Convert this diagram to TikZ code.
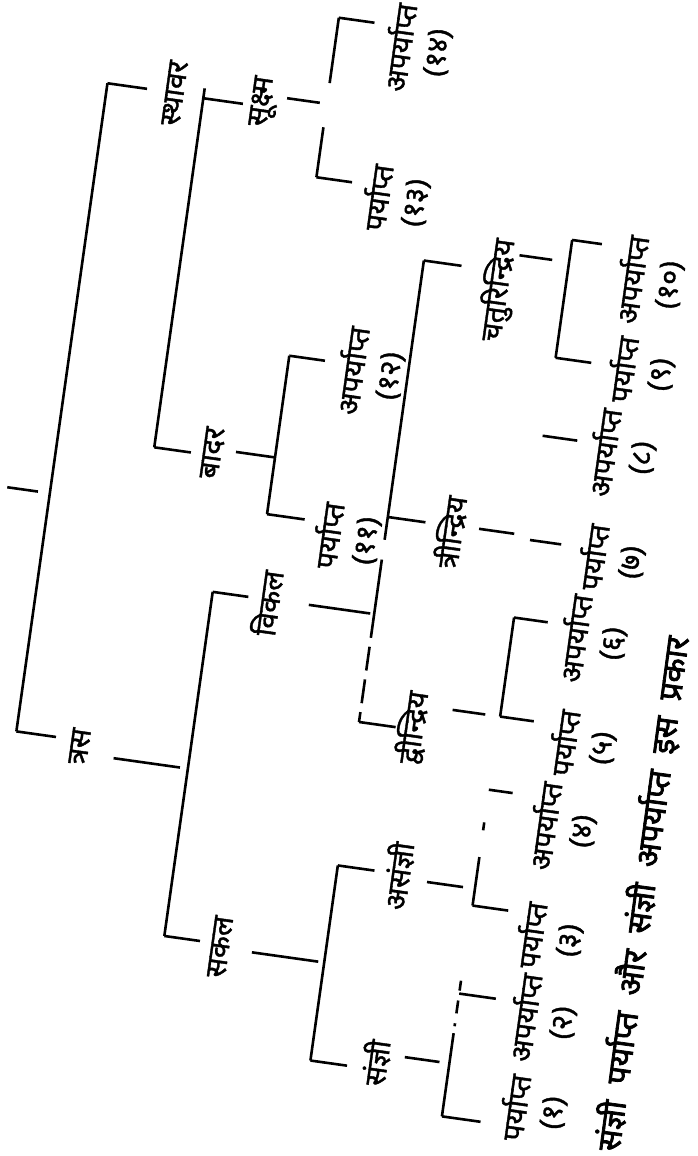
\documentclass[tikz,border=0pt]{standalone}
\usepackage{fontspec}
\newfontfamily\hindi[Script=Devanagari, FakeBold=1.3]{Noto Sans}
\newfontfamily\hindinote[Script=Devanagari, FakeBold=2.4, WordSpace=2]{Noto Sans}
\tikzset{
  branch/.style={draw=black, line width=2.6pt},
  grouplab/.style={font=\hindi\fontsize{29}{35}\selectfont, inner sep=1pt},
  leaflab/.style={grouplab, align=center},
  notelab/.style={font=\hindinote\fontsize{32}{40}\selectfont, inner sep=0pt, anchor=west, rotate=0.3},
}
\begin{document}
\begin{tikzpicture}[x=1pt, y=1pt]
\useasboundingbox (0,0) rectangle (698,-1156);
\begin{scope}[rotate=82, transform shape]
% first split
\coordinate (root-in) at (-481.5,-106);
\coordinate (root-top) at (-67.5,-118);
\coordinate (root-bot) at (-722,-118);
\node[grouplab] (sthavar) at (-68,-186) {स्थावर};
\node[grouplab] (tras) at (-728,-183) {त्रस};
\draw[branch] (root-in) -- ++(0,31);
\draw[branch] (root-top) -- (root-bot);
\draw[branch] (root-top) -- ++(0,-40);
\draw[branch] (root-bot) -- ++(0,-40);
% sthavar: badar and sukshma
\coordinate (sth-top) at (-59,-215);
\coordinate (sth-suk) at (-69,-215);
\coordinate (sth-bot) at (-421.5,-215);
\node[grouplab] (sukshma) at (-64,-276) {सूक्ष्म};
\node[grouplab] (badar) at (-419,-274) {बादर};
\draw[branch] (sth-top) -- (sth-bot);
\draw[branch] (sth-suk) -- ++(0,-40);
\draw[branch] (sth-bot) -- ++(0,-37);
% sukshma leaves
\coordinate (suk-in) at (-57.3,-338);
\coordinate (suk-top) at (29.6,-338);
\coordinate (suk-bot) at (-131.5,-338);
\node[leaflab] (par13) at (-143,-420) {पर्याप्त\\(१३)};
\node[leaflab] (apar14) at (8.7,-421) {अपर्याप्त\\(१४)};
\draw[branch, shorten <=7pt] (suk-in) -- ++(0,40);
\draw[branch, dash pattern=on 66pt off 44.6pt] (suk-top) -- (suk-bot);
\draw[branch] (suk-top) -- ++(0,-36);
\draw[branch] (suk-bot) -- ++(0,-36);
% badar leaves
\coordinate (bad-in) at (-414.7,-336);
\coordinate (bad-top) at (-312,-336);
\coordinate (bad-bot) at (-472,-336);
\node[leaflab] (par11) at (-484.5,-418.5) {पर्याप्त\\(११)};
\node[leaflab] (apar12) at (-318,-419) {अपर्याप्त\\(१२)};
\draw[branch] (bad-in) -- ++(0,39.4);
\draw[branch] (bad-top) -- (bad-bot);
\draw[branch] (bad-top) -- ++(0,-36);
\draw[branch] (bad-bot) -- ++(0,-38);
% tras: sakal and vikal
\coordinate (tras-in) at (-735,-293);
\coordinate (tras-top) at (-556.5,-293);
\coordinate (tras-bot) at (-904,-293);
\node[grouplab] (vikal) at (-560,-348) {विकल};
\node[grouplab] (sakal) at (-907,-350) {सकल};
\draw[branch, shorten <=8pt] (tras-in) -- ++(0,75);
\draw[branch] (tras-top) -- (tras-bot);
\draw[branch] (tras-top) -- ++(0,-36);
\draw[branch] (tras-bot) -- ++(0,-36);
% vikal: three groups
\coordinate (vik-in) at (-556,-456);
\coordinate (vik-top) at (-199,-456);
\coordinate (vik-mid) at (-458,-456);
\coordinate (vik-bot) at (-665,-456);
\node[grouplab] (chatur) at (-218,-534) {चतुरिन्द्रिय};
\node[grouplab] (tri) at (-464,-520) {त्रीन्द्रिय};
\node[grouplab] (dvi) at (-663,-510) {द्वीन्द्रिय};
\draw[branch, shorten <=4pt] (vik-in) -- ++(0,66);
\draw[branch, dash pattern=on 282pt off 20pt] (vik-top) -- (vik-in);
\draw[branch, dash pattern=on 24pt off 9pt] (vik-in) -- (vik-bot);
\draw[branch] (vik-top) -- ++(0,-38);
\draw[branch] (vik-mid) -- ++(0,-38);
\draw[branch] (vik-bot) -- ++(0,-37);
% chaturindriya leaves
\coordinate (cat-in) at (-180.5,-600);
\coordinate (cat-top) at (-158,-600);
\coordinate (cat-bot) at (-277,-600);
\node[leaflab] (apar10) at (-189,-683) {अपर्याप्त\\(१०)};
\node[leaflab] (par9) at (-279,-687) {पर्याप्त\\(९)};
\draw[branch, shorten <=17pt] (cat-in) -- ++(0,50);
\draw[branch] (cat-top) -- (cat-bot);
\draw[branch] (cat-top) -- ++(0,-30);
\draw[branch] (cat-bot) -- ++(0,-36);
% trindriya leaves
\coordinate (tri-in) at (-457,-583.5);
\coordinate (tri-top) at (-356,-598);
\coordinate (tri-bot) at (-461,-600);
\node[leaflab] (apar8) at (-364,-680) {अपर्याप्त\\(८)};
\node[leaflab] (par7) at (-469,-684) {पर्याप्त\\(७)};
\draw[branch] (tri-in) -- ++(0,35.5);
\draw[branch] (tri-top) -- ++(0,-35);
\draw[branch] (tri-bot) -- ++(0,-31.5);
% dvindriya leaves
\coordinate (dvi-in) at (-640,-595);
\coordinate (dvi-top) at (-540,-595);
\coordinate (dvi-bot) at (-640,-595);
\node[leaflab] (apar6) at (-552,-677) {अपर्याप्त\\(६)};
\node[leaflab] (par5) at (-657,-681) {पर्याप्त\\(५)};
\draw[branch, shorten <=15pt] (dvi-in) -- ++(0,48);
\draw[branch] (dvi-top) -- (dvi-bot);
\draw[branch] (dvi-top) -- ++(0,-34);
\draw[branch] (dvi-bot) -- ++(0,-34);
% sakal: sanjni and asanjni
\coordinate (sak-in) at (-908,-455);
\coordinate (sak-top) at (-810,-455);
\coordinate (sak-bot) at (-1007,-455);
\node[grouplab] (asanjni) at (-812,-516) {असंज्ञी};
\node[grouplab] (sanjni) at (-1000,-520) {संज्ञी};
\draw[branch, shorten <=6pt] (sak-in) -- ++(0,73);
\draw[branch] (sak-top) -- (sak-bot);
\draw[branch] (sak-top) -- ++(0,-37);
\draw[branch] (sak-bot) -- ++(0,-37);
% asanjni leaves
\coordinate (asj-in) at (-814,-594);
\coordinate (asj-top) at (-714,-594);
\coordinate (asj-bot) at (-831,-594);
\node[leaflab] (apar4) at (-742,-673) {अपर्याप्त\\(४)};
\node[leaflab] (par3) at (-852,-675) {पर्याप्त\\(३)};
\draw[branch, shorten <=12pt] (asj-in) -- ++(0,48.4);
\draw[branch, dash pattern=on 49pt off 27pt on 8pt off 40pt] (asj-bot) -- (asj-top);
\draw[branch] (asj-top) -- ++(0,-24);
\draw[branch] (asj-bot) -- ++(0,-36);
% sanjni leaves
\coordinate (snj-in) at (-990.5,-593);
\coordinate (snj-top) at (-907,-593);
\coordinate (snj-up) at (-920,-593);
\coordinate (snj-bot) at (-1044,-593);
\node[leaflab] (apar2) at (-934.5,-680) {अपर्याप्त\\(२)};
\node[leaflab] (par1) at (-1025,-683) {पर्याप्त\\(१)};
\draw[branch, shorten <=10pt] (snj-in) -- ++(0,45);
\draw[branch, dash pattern=on 84pt off 7pt on 3pt off 10pt on 13pt off 10pt on 12pt off 2pt] (snj-bot) -- (snj-top);
\draw[branch] (snj-up) -- ++(0,-37);
\draw[branch] (snj-bot) -- ++(0,-39);
% note under the tree
\node[notelab] (note) at (-1055,-762) {संज्ञी पर्याप्त और संज्ञी अपर्याप्त इस प्रकार};
\end{scope}
\end{tikzpicture}
\end{document}
